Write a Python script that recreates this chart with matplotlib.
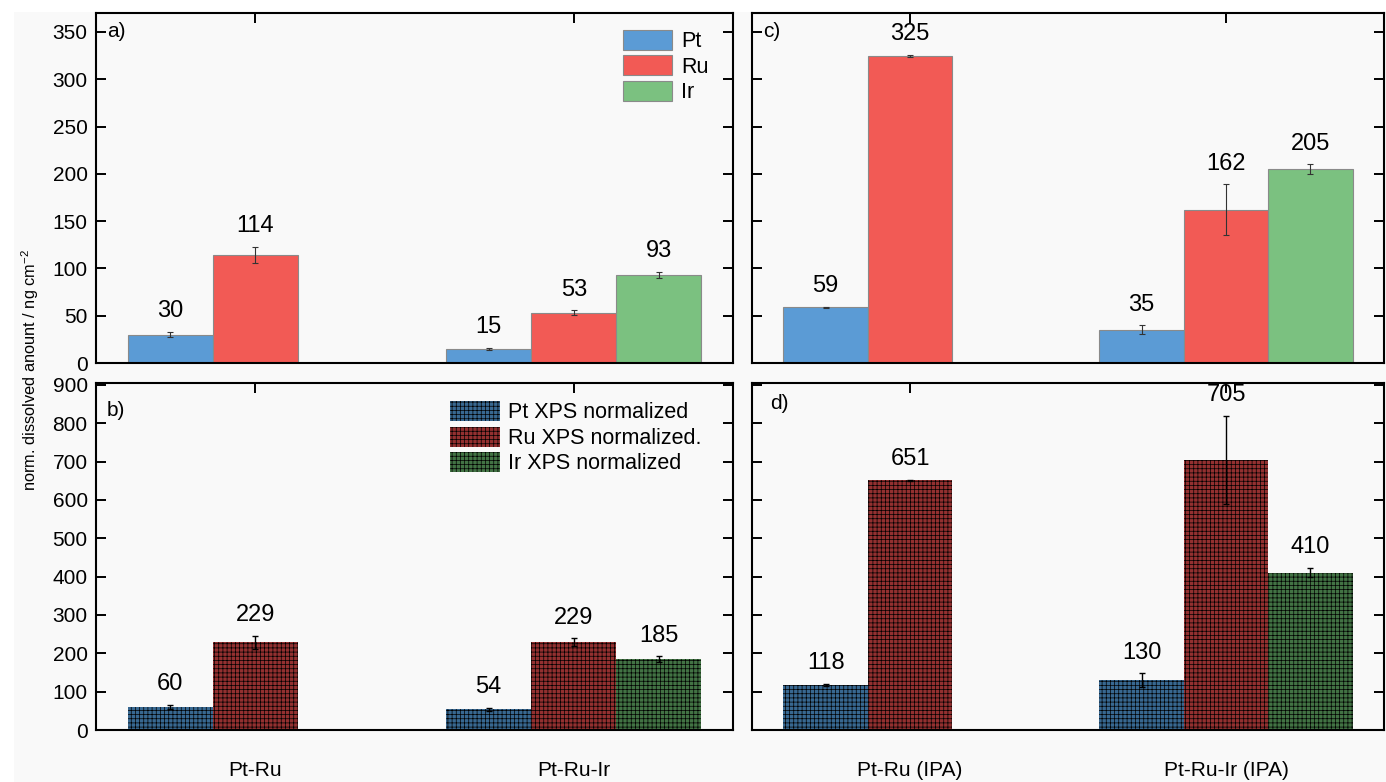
import matplotlib
matplotlib.use("Agg")
import matplotlib.pyplot as plt
from matplotlib.patches import Rectangle
import numpy as np

plt.rcParams['font.family'] = ['Liberation Sans', 'DejaVu Sans']
plt.rcParams['hatch.linewidth'] = 0.5

# ---- data ----
cats_left = ["Pt-Ru", "Pt-Ru-Ir"]
cats_right = ["Pt-Ru (IPA)", "Pt-Ru-Ir (IPA)"]
elements = ["Pt", "Ru", "Ir"]

# panel a (ng cm-2), per element, per category (None = absent)
a_vals = {"Pt": [30, 15], "Ru": [114, 53], "Ir": [None, 93]}
a_errs = {"Pt": [2.7, 1.0], "Ru": [8.5, 2.6], "Ir": [None, 3.5]}
# panel c
c_vals = {"Pt": [59, 35], "Ru": [325, 162], "Ir": [None, 205]}
c_errs = {"Pt": [0.6, 4.8], "Ru": [1.0, 26.8], "Ir": [None, 5.0]}
# panel b (XPS normalized)
b_vals = {"Pt": [60, 54], "Ru": [229, 229], "Ir": [None, 185]}
b_errs = {"Pt": [5, 4], "Ru": [17, 10], "Ir": [None, 7]}
# panel d
d_vals = {"Pt": [118, 130], "Ru": [651, 705], "Ir": [None, 410]}
d_errs = {"Pt": [2, 18], "Ru": [2, 115], "Ir": [None, 12]}

top_ticks = [0, 50, 100, 150, 200, 250, 300, 350]
bot_ticks = [0, 100, 200, 300, 400, 500, 600, 700, 800, 900]

plain_colors = {"Pt": "#5b9bd5", "Ru": "#f25a55", "Ir": "#7bc180"}
hatch_colors = {"Pt": "#386891", "Ru": "#933030", "Ir": "#427344"}
plain_labels = {"Pt": "Pt", "Ru": "Ru", "Ir": "Ir"}
hatch_labels = {"Pt": "Pt XPS normalized", "Ru": "Ru XPS normalized.", "Ir": "Ir XPS normalized"}

W = 1386 / 100
H = 782 / 100
fig = plt.figure(figsize=(W, H), dpi=100, facecolor="white")
fig.patches.append(Rectangle((14 / 1386, 0), 1 - 14 / 1386, 1 - 12 / 782,
                             transform=fig.transFigure, facecolor="#f9f9f9",
                             edgecolor="none", zorder=-10))

bg = "#f9f9f9"
lx0, lw_ = 96 / 1386, (733 - 96) / 1386
rx0, rw_ = 752 / 1386, (1384 - 752) / 1386
ty0, th_ = (782 - 363) / 782, 350 / 782
by0, bh_ = (782 - 730) / 782, 347 / 782

ax_a = fig.add_axes([lx0, ty0, lw_, th_])
ax_c = fig.add_axes([rx0, ty0, rw_, th_])
ax_b = fig.add_axes([lx0, by0, lw_, bh_])
ax_d = fig.add_axes([rx0, by0, rw_, bh_])

bw = 0.267
offsets = {"Pt": -bw, "Ru": 0.0, "Ir": bw}
x = np.arange(2)


def draw(ax, vals, errs, hatched, ylim, yticks, cats, show_xlabels, show_ylabels, letter, lpos):
    ax.set_facecolor(bg)
    handles = []
    for el in elements:
        xs, vs, es = [], [], []
        for i in range(2):
            if vals[el][i] is not None:
                xs.append(x[i] + offsets[el])
                vs.append(vals[el][i])
                es.append(errs[el][i])
        if hatched:
            bars = ax.bar(xs, vs, width=bw, color=hatch_colors[el], edgecolor="black",
                          linewidth=0, hatch="++++", label=hatch_labels[el], zorder=2)
            ecol, elw = "black", 1.0
        else:
            bars = ax.bar(xs, vs, width=bw, color=plain_colors[el], edgecolor="#8a8a8a",
                          linewidth=0.8, label=plain_labels[el], zorder=2)
            ecol, elw = "#333333", 0.8
        ax.errorbar(xs, vs, yerr=es, fmt="none", ecolor=ecol, elinewidth=elw,
                    capsize=2, capthick=elw, zorder=3)
        handles.append(bars)
        for xi, v, e in zip(xs, vs, es):
            ax.annotate(f"{v}", (xi, v + e), xytext=(0, 7), textcoords="offset points",
                        ha="center", va="bottom", fontsize=17, zorder=4)
    ax.set_xlim(-0.5, 1.5)
    ax.set_ylim(*ylim)
    ax.set_yticks(yticks)
    ax.set_xticks(x)
    ax.tick_params(axis="both", direction="in", length=7, width=1.4,
                   top=True, right=True, labelsize=15)
    ax.tick_params(axis="y", pad=6)
    ax.tick_params(axis="x", pad=22, labelsize=15)
    if show_xlabels:
        ax.set_xticklabels(cats)
    else:
        ax.set_xticklabels([])
    if not show_ylabels:
        ax.set_yticklabels([])
    for s in ax.spines.values():
        s.set_linewidth(1.5)
    ax.text(lpos[0], lpos[1], letter, transform=ax.transAxes, fontsize=15,
            ha="left", va="center")
    return handles


ha = draw(ax_a, a_vals, a_errs, False, (0, 370), top_ticks, cats_left, False, True, "a)", (0.017, 0.946))
draw(ax_c, c_vals, c_errs, False, (0, 370), top_ticks, cats_right, False, False, "c)", (0.017, 0.946))
hb = draw(ax_b, b_vals, b_errs, True, (0, 905), bot_ticks, cats_left, True, True, "b)", (0.017, 0.922))
draw(ax_d, d_vals, d_errs, True, (0, 905), bot_ticks, cats_right, True, False, "d)", (0.028, 0.942))

ax_a.legend(handles=ha, loc="upper left", bbox_to_anchor=(0.827, 0.952), frameon=False,
            fontsize=15.5, handlelength=2.3, handleheight=1.05, labelspacing=0.15,
            handletextpad=0.4, borderpad=0, borderaxespad=0)
ax_b.legend(handles=hb, loc="upper left", bbox_to_anchor=(0.556, 0.948), frameon=False,
            fontsize=15.5, handlelength=2.3, handleheight=1.05, labelspacing=0.15,
            handletextpad=0.4, borderpad=0, borderaxespad=0)

fig.text(30 / 1386, 1 - 370 / 782, r"norm. dissolved anount / ng cm$^{\mathregular{-2}}$",
         rotation=90, ha="center", va="center", fontsize=11.8)

fig.savefig("out.png", dpi=100, facecolor=fig.get_facecolor())
